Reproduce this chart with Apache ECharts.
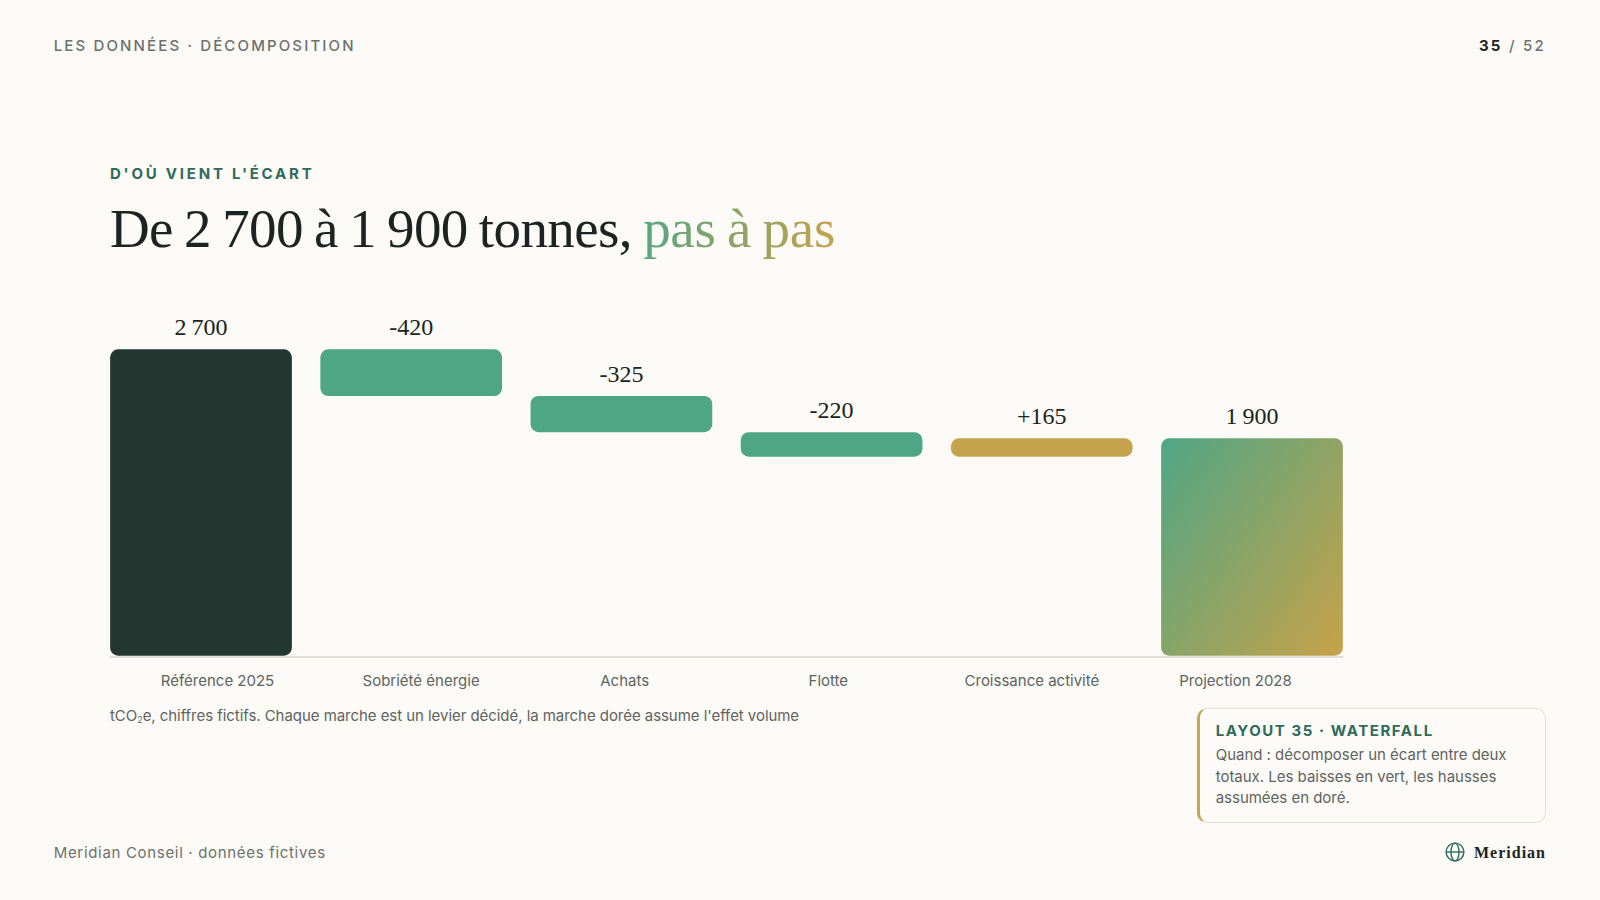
<!DOCTYPE html>
<html lang="fr">
<head>
<meta charset="utf-8">
<title>Décomposition de l'écart</title>
<script src="https://cdn.jsdelivr.net/npm/echarts@6/dist/echarts.min.js"></script>
<style>
  html, body { margin: 0; width: 1600px; height: 900px; background: #fbfaf7; overflow: hidden; }
  body { position: relative; font-family: Inter, sans-serif; color: #5f6461; }
  #chart { position: absolute; left: 0; top: 0; width: 1600px; height: 900px; }
  .t { position: absolute; white-space: nowrap; line-height: 1; }
  #kicker { left: 53.7px; top: 38px; font-size: 15px; letter-spacing: 2.14px; font-weight: 500; color: #6d716e; }
  #page { right: 54px; top: 38px; font-size: 15px; letter-spacing: 2.25px; font-weight: 500; color: #6d716e; }
  #page b { color: #1f2623; font-weight: 700; }
  #eyebrow { left: 110px; top: 166px; font-size: 15px; letter-spacing: 2.77px; font-weight: 700; color: #2f6b5a; }
  #title { left: 110px; top: 201px; font-family: "Liberation Serif", serif; font-size: 55px; letter-spacing: -0.6px; word-spacing: -2px; color: #1c2421; }
  #title span { letter-spacing: -0.3px; background: linear-gradient(100deg, #55a583, #c6a24b); -webkit-background-clip: text; background-clip: text; color: transparent; }
  #note { left: 110px; top: 708px; font-size: 15px; letter-spacing: -0.05px; color: #5f6461; }
  #note sub { font-size: 9px; vertical-align: -2px; line-height: 0; }
  #callout { position: absolute; left: 1197px; top: 707.5px; width: 349px; height: 115px; box-sizing: border-box;
             background: #fcfbf8; border: 1px solid #e4e1d8; border-left: 3px solid #c8a552; border-radius: 10px; }
  #callout .h { position: absolute; left: 15.7px; top: 14px; font-size: 15px; font-weight: 700; letter-spacing: 1.56px; color: #2f6b5a; white-space: nowrap; line-height: 1; }
  #callout .b { position: absolute; left: 15.7px; top: 35.5px; font-size: 15px; line-height: 21.6px; letter-spacing: -0.02px; color: #5f6461; white-space: nowrap; }
  #footer { left: 53.7px; top: 845.4px; font-size: 15px; letter-spacing: 0.68px; color: #6d716e; }
  #brand { right: 54px; top: 845.4px; font-family: "Liberation Serif", serif; font-weight: 700; font-size: 16px; letter-spacing: 1px; color: #1c2421; }
  #globe { position: absolute; left: 1445px; top: 842.4px; }
</style>
</head>
<body>
<div id="chart"></div>
<div class="t" id="kicker">LES DONNÉES · DÉCOMPOSITION</div>
<div class="t" id="page"><b>35</b> / 52</div>
<div class="t" id="eyebrow">D'OÙ VIENT L'ÉCART</div>
<div class="t" id="title">De 2 700 à 1 900 tonnes, <span>pas à pas</span></div>
<div class="t" id="note">tCO<sub>2</sub>e, chiffres fictifs. Chaque marche est un levier décidé, la marche dorée assume l'effet volume</div>
<div id="callout">
  <div class="h">LAYOUT 35 · WATERFALL</div>
  <div class="b">Quand : décomposer un écart entre deux<br>totaux. Les baisses en vert, les hausses<br>assumées en doré.</div>
</div>
<div class="t" id="footer">Meridian Conseil · données fictives</div>
<svg id="globe" width="20" height="20" viewBox="0 0 20 20" fill="none" stroke="#2f6b5a" stroke-width="1.4">
  <circle cx="10" cy="10" r="8.9"/><ellipse cx="10" cy="10" rx="4" ry="8.9"/><path d="M1.1 10h17.8"/>
</svg>
<div class="t" id="brand">Meridian</div>

<script>
// Waterfall steps, in tCO2e
const categories = ['Référence 2025', 'Sobriété énergie', 'Achats', 'Flotte', 'Croissance activité', 'Projection 2028'];
const stepValues = [2700, -420, -325, -220, 165, 1900];
const stepKinds = ['total', 'delta', 'delta', 'delta', 'delta', 'total'];

// The vertical scale starts a little under zero; totals stand on the axis floor
const yFloor = -54;
const yCeil = 2700;

const INK = '#233730';
const GREEN = '#4fa686';
const GOLD = '#c5a24c';

// Opening and closing level of every step
let level = 0;
const spans = stepValues.map((v, i) => {
  if (stepKinds[i] === 'total') { level = v; return [yFloor, v]; }
  const from = level;
  level += v;
  return [Math.min(from, level), Math.max(from, level)];
});

const formatValue = (v, kind) => {
  const abs = String(Math.abs(v)).replace(/\B(?=(\d{3})+$)/g, '\u2009');
  if (kind === 'total') return abs;
  return (v < 0 ? '-' : '+') + abs;
};

// CSS-style 135deg gradient for the closing total
const diagonalFill = (w, h) => {
  const half = (w + h) / 4;
  return new echarts.graphic.LinearGradient(
    0.5 - half / w, 0.5 - half / h, 0.5 + half / w, 0.5 + half / h,
    [{ offset: 0, color: '#4fa686' }, { offset: 1, color: '#c8a248' }]
  );
};

const barFill = (i, w, h) => {
  if (i === 0) return INK;
  if (i === categories.length - 1) return diagonalFill(w, h);
  return stepValues[i] < 0 ? GREEN : GOLD;
};

const chart = echarts.init(document.getElementById('chart'), null, { renderer: 'svg' });

const plotTop = 349.3;
const plotHeight = 306.4;
const hiddenY = (gridIndex) => ({
  type: 'value', gridIndex, min: yFloor, max: yCeil, show: false
});
const hiddenX = (gridIndex) => ({
  type: 'category', gridIndex, data: categories, axisLine: { show: false },
  axisTick: { show: false }, axisLabel: { show: false }
});

chart.setOption({
  animation: false,
  grid: [
    { left: 95.9, width: 1261.2, top: plotTop, height: plotHeight },
    { left: 110, width: 1233, top: plotTop, height: plotHeight + 0.6 },
    { left: 115.7, width: 1221.6, top: plotTop, height: plotHeight }
  ],
  xAxis: [
    hiddenX(0),
    { ...hiddenX(1), axisLine: { show: true, onZero: false, lineStyle: { color: '#d9d7d0', width: 1.5 } } },
    {
      ...hiddenX(2),
      axisLabel: { show: true, interval: 0, margin: 17, color: '#5f6461', fontFamily: 'Inter', fontSize: 15 }
    }
  ],
  yAxis: [hiddenY(0), hiddenY(1), hiddenY(2)],
  series: [{
    type: 'custom',
    xAxisIndex: 0,
    yAxisIndex: 0,
    clip: false,
    z: 3,
    data: spans.map((s, i) => [i, s[0], s[1]]),
    encode: { x: 0, y: [1, 2] },
    renderItem(params, api) {
      const i = api.value(0);
      const bottom = api.coord([i, api.value(1)]);
      const top = api.coord([i, api.value(2)]);
      const w = api.size([1, 0])[0] * 0.8644;
      const h = bottom[1] - top[1];
      return {
        type: 'group',
        children: [{
          type: 'rect',
          shape: { x: top[0] - w / 2, y: top[1], width: w, height: h, r: 8 },
          style: { fill: barFill(i, w, h) }
        }, {
          type: 'text',
          style: {
            x: top[0], y: top[1] - 22,
            text: formatValue(stepValues[i], stepKinds[i]),
            align: 'center', verticalAlign: 'middle',
            font: '24px "Liberation Serif", serif',
            fill: '#1c2421'
          }
        }]
      };
    }
  }]
});
</script>
</body>
</html>
